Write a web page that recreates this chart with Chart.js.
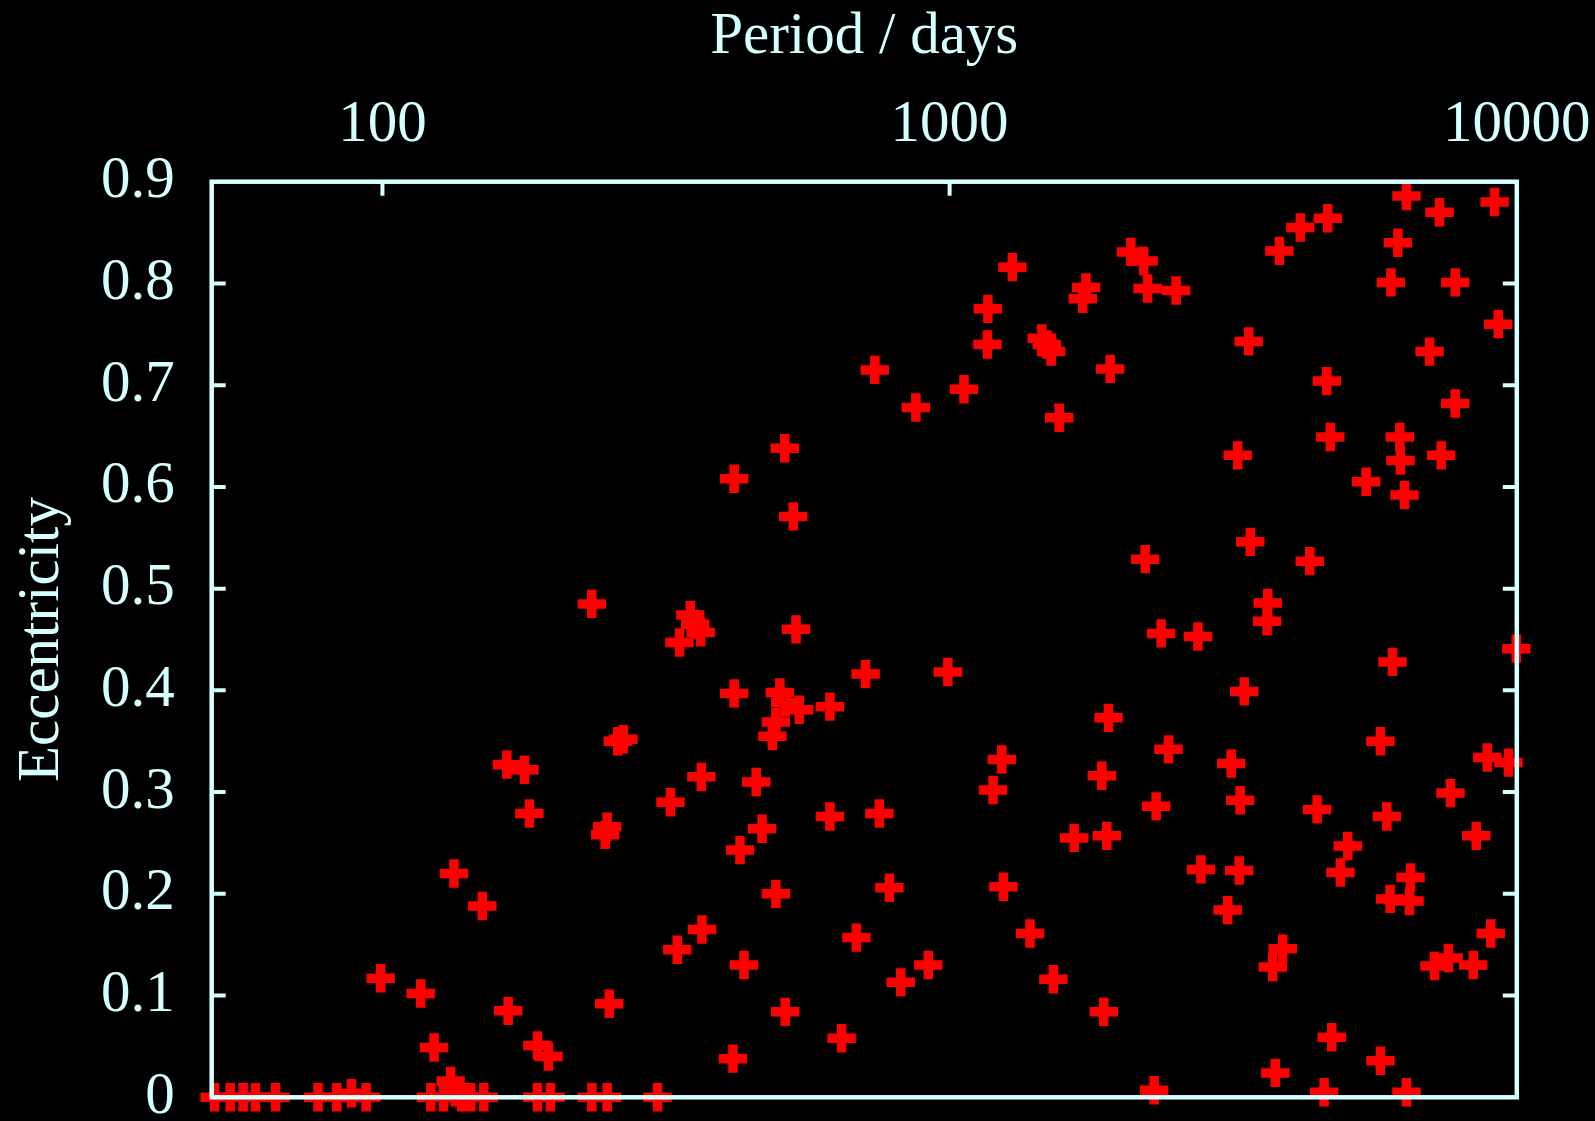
<!DOCTYPE html>
<html>
<head>
<meta charset="utf-8">
<title>Period vs eccentricity</title>
<script src="https://cdn.jsdelivr.net/npm/chart.js@4.4.1/dist/chart.umd.min.js"></script>
<style>
  html, body { margin: 0; padding: 0; background: #000; }
  canvas { display: block; }
</style>
</head>
<body>
<canvas id="chart" width="1595" height="1121"></canvas>
<script>
// Orbital period (days) and eccentricity, one entry per object
const PERIOD_DAYS = [
  50.6, 53.9, 56.8, 59.7, 64.8, 77.0, 83.1, 88.2, 93.6, 121.7,
  128.1, 131.9, 134.3, 138.0, 143.1, 150.9, 187.6, 197.8, 234, 249,
  305.5, 2294, 4574, 6390,
  99.3, 116.8, 123.3, 133.7, 150.0, 165.7, 178.0, 181.6, 166.6, 187.6,
  196.2, 251.1,
  512, 417, 530, 234, 349, 356, 364, 334, 536, 711,
  417, 502, 513, 543, 494, 487, 615, 266, 260, 365,
  322, 456, 615, 249, 247, 467, 427, 494, 685, 366,
  331, 434, 513, 645, 415,
  2087, 2198, 2234, 2508, 1290, 1740, 1717, 1168, 1166, 1454,
  1484, 1510, 738, 872, 1060, 1560, 1919, 2212, 2360, 2741,
  993, 1906, 2432, 1236, 1193, 1855, 2313, 752, 1658, 1893,
  2774, 783, 1244, 1386, 917, 820, 1524, 1870,
  6390, 7307, 9138, 4642, 4153, 3814, 6170, 5998, 7788, 9275,
  3368, 7018, 4624, 7788, 4691, 6220, 6236, 7357, 3220, 5425,
  6339, 3389, 4315, 3638, 3628,
  9980, 6037, 3307, 5749, 8870, 9670, 3137, 3253, 4445, 5899,
  7640, 8482, 5035, 4887, 3240, 3092, 6496, 5980, 6470, 8997,
  7160, 7580, 8380, 3867, 3713, 4718, 5749, 3752
];
const ECCENTRICITY = [
  0, 0, 0, 0, 0, 0, 0, 0.004, 0, 0,
  0, 0.016, 0.005, 0, 0, 0, 0, 0, 0, 0,
  0, 0.007, 0.005, 0.005,
  0.117, 0.102, 0.049, 0.220, 0.188, 0.327, 0.322, 0.279, 0.085, 0.051,
  0.040, 0.092,
  0.638, 0.608, 0.571, 0.485, 0.474, 0.465, 0.457, 0.447, 0.460, 0.416,
  0.397, 0.398, 0.388, 0.381, 0.369, 0.355, 0.384, 0.352, 0.350, 0.315,
  0.290, 0.310, 0.276, 0.266, 0.258, 0.264, 0.243, 0.200, 0.157, 0.165,
  0.145, 0.130, 0.084, 0.058, 0.038,
  0.831, 0.822, 0.795, 0.793, 0.816, 0.796, 0.785, 0.775, 0.740, 0.746,
  0.740, 0.733, 0.715, 0.678, 0.696, 0.668, 0.716, 0.529, 0.456, 0.453,
  0.418, 0.373, 0.342, 0.332, 0.302, 0.316, 0.286, 0.279, 0.255, 0.257,
  0.224, 0.206, 0.207, 0.161, 0.130, 0.113, 0.116, 0.084,
  0.886, 0.870, 0.880, 0.864, 0.855, 0.832, 0.840, 0.801, 0.801, 0.760,
  0.743, 0.733, 0.704, 0.682, 0.649, 0.649, 0.626, 0.631, 0.631, 0.605,
  0.592, 0.546, 0.527, 0.486, 0.468,
  0.441, 0.428, 0.399, 0.350, 0.334, 0.329, 0.328, 0.292, 0.283, 0.276,
  0.299, 0.257, 0.247, 0.221, 0.223, 0.184, 0.216, 0.195, 0.193, 0.161,
  0.129, 0.137, 0.130, 0.146, 0.128, 0.059, 0.036, 0.024
];

const X_TICKS = [100, 1000, 10000];
const X_TICK_LABELS = ['100', '1000', '10000'];
const Y_TICKS = [0, 0.1, 0.2, 0.3, 0.4, 0.5, 0.6, 0.7, 0.8, 0.9];
const Y_TICK_LABELS = ['0', '0.1', '0.2', '0.3', '0.4', '0.5', '0.6', '0.7', '0.8', '0.9'];
const X_TITLE = 'Period / days';
const Y_TITLE = 'Eccentricity';

const INK = '#d6ffff';
const MARK = '#ff0000';
const FONT = { family: '"Liberation Serif", "Times New Roman", serif', size: 59, lineHeight: 1 };

// Box frame and inward tick marks, painted above the markers
const framePlugin = {
  id: 'frame',
  afterDatasetsDraw(chart) {
    const { ctx, chartArea: a, scales: { x, y } } = chart;
    const len = 14;
    ctx.save();
    ctx.strokeStyle = INK;
    ctx.lineWidth = 4;
    ctx.beginPath();
    X_TICKS.forEach(v => {
      const px = x.getPixelForValue(v);
      if (px > a.left + 2 && px < a.right - 2) {
        ctx.moveTo(px, a.top);
        ctx.lineTo(px, a.top + len);
      }
    });
    Y_TICKS.forEach(v => {
      const py = y.getPixelForValue(v);
      if (py > a.top + 2 && py < a.bottom - 2) {
        ctx.moveTo(a.left, py);
        ctx.lineTo(a.left + len, py);
        ctx.moveTo(a.right, py);
        ctx.lineTo(a.right - len, py);
      }
    });
    ctx.stroke();
    ctx.lineWidth = 4.5;
    ctx.strokeRect(a.left, a.top, a.right - a.left, a.bottom - a.top);
    ctx.restore();
  }
};

const points = PERIOD_DAYS.map((p, i) => ({ x: p, y: ECCENTRICITY[i] }));

new Chart(document.getElementById('chart'), {
  type: 'scatter',
  data: {
    datasets: [{
      data: points,
      pointStyle: 'cross',
      pointRadius: 14.2,
      pointHoverRadius: 14.2,
      pointBorderWidth: 9.5,
      pointHoverBorderWidth: 9.5,
      pointBorderColor: MARK,
      pointBackgroundColor: MARK,
      showLine: false,
      clip: false
    }]
  },
  options: {
    responsive: false,
    animation: false,
    events: [],
    layout: { padding: { left: 0, top: 0, right: 78.2, bottom: 21.7 } },
    plugins: { legend: { display: false }, tooltip: { enabled: false } },
    scales: {
      x: {
        type: 'logarithmic',
        position: 'top',
        min: 50,
        max: 10000,
        grid: { display: false },
        border: { display: false },
        afterBuildTicks: s => { s.ticks = X_TICKS.map(v => ({ value: v })); },
        afterFit: s => {
          s.height = 181.7;
          s.paddingLeft = 0; s.paddingRight = 0; s.paddingTop = 0; s.paddingBottom = 0;
        },
        ticks: {
          color: INK, font: FONT, padding: 18.5,
          autoSkip: false, maxRotation: 0, minRotation: 0,
          callback: (v, i) => X_TICK_LABELS[i]
        },
        title: { display: true, text: X_TITLE, color: INK, font: FONT, padding: { top: 8, bottom: 0 } }
      },
      y: {
        type: 'linear',
        position: 'left',
        min: 0,
        max: 0.9,
        grid: { display: false },
        border: { display: false },
        afterBuildTicks: s => { s.ticks = Y_TICKS.map(v => ({ value: v })); },
        afterFit: s => {
          s.width = 211.7;
          s.paddingLeft = 0; s.paddingRight = 0; s.paddingTop = 0; s.paddingBottom = 0;
        },
        ticks: {
          color: INK, font: FONT, padding: 29,
          autoSkip: false,
          callback: (v, i) => Y_TICK_LABELS[i]
        },
        title: { display: true, text: Y_TITLE, color: INK, font: FONT, padding: { top: 12.5, bottom: 0 } }
      }
    }
  },
  plugins: [framePlugin]
});
</script>
</body>
</html>
